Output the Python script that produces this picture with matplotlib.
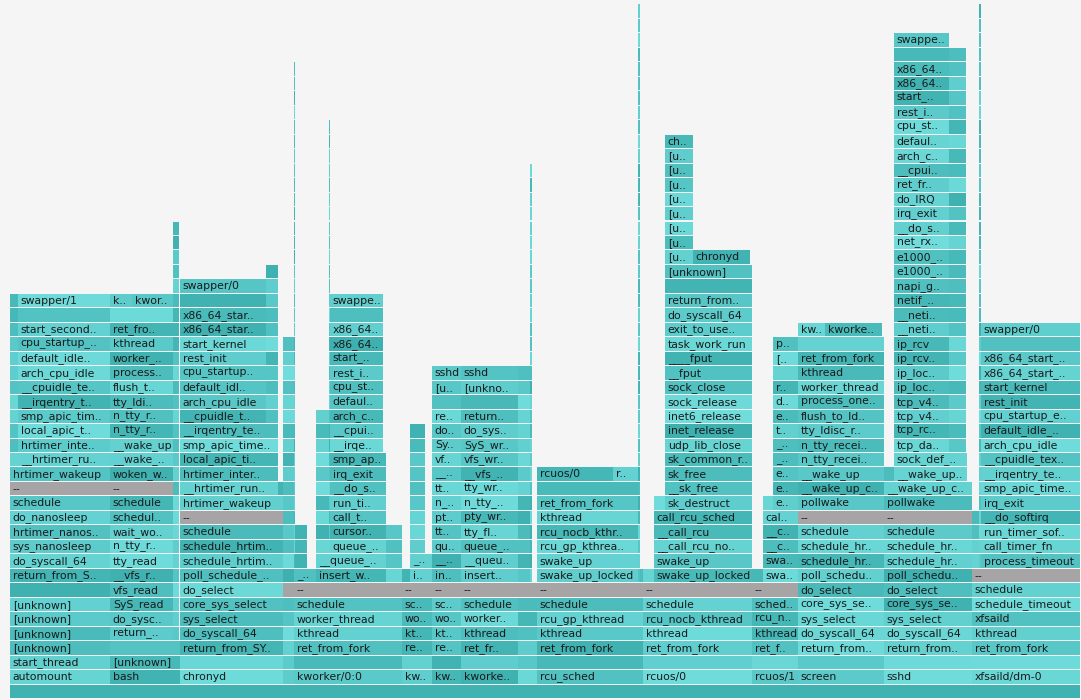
import zlib
import matplotlib
matplotlib.use("Agg")
import matplotlib.pyplot as plt


def unk(n):
    return ";".join(["[unknown]"] * n)


# ===================== FRAGMENTOS DE PILA =====================
SELECT = (";;return_from_SYSCALL_64;do_syscall_64;sys_select;core_sys_select;do_select;"
          "poll_schedule_timeout;schedule_hrtimeout_range;schedule_hrtimeout_range_clock;schedule;--")
KWORK = ";;ret_from_fork;kthread;worker_thread;schedule;--"
IDLE = ("smp_apic_timer_interrupt;__irqentry_text_start;__cpuidle_text_start;arch_cpu_idle;"
        "default_idle_call;cpu_startup_entry")
BOOT0 = "rest_init;start_kernel;x86_64_start_reservations;x86_64_start_kernel;;swapper/0"
TTYW = ("insert_work;__queue_work;queue_work_on;tty_flip_buffer_push;pty_write;n_tty_write;tty_write;"
        "__vfs_write;vfs_write;SyS_write;do_syscall_64;return_from_SYSCALL_64;;[unknown];sshd")
RCU_CB = "swake_up_locked;swake_up;__call_rcu_nocb_enqueue;__call_rcu;call_rcu_sched"
TIMER = "call_timer_fn;run_timer_softirq;__do_softirq;irq_exit"

AUTO = ("automount;start_thread;[unknown];[unknown];[unknown];[unknown];;return_from_SYSCALL_64;"
        "do_syscall_64;sys_nanosleep;hrtimer_nanosleep;do_nanosleep;schedule;--;hrtimer_wakeup")
BASH = ("bash;[unknown];;return_from_SYSCALL_64;do_syscall_64;SyS_read;vfs_read;__vfs_read;tty_read;"
        "n_tty_read;wait_woken;schedule_timeout;schedule;--;woken_wake_function;__wake_up_common;__wake_up;"
        "n_tty_receive_buf_common;n_tty_receive_buf2;tty_ldisc_receive_buf;flush_to_ldisc;process_one_work;"
        "worker_thread;kthread;ret_from_fork;")
CHRONY = "chronyd" + SELECT + ";hrtimer_wakeup;__hrtimer_run_queues;hrtimer_interrupt;local_apic_timer_interrupt"
KW0 = "kworker/0:0" + KWORK
KW0B = KW0 + ";insert_work;__queue_work"
KW1 = "kworker/0:1" + KWORK
KW3 = "kworker/u2:1" + KWORK
RCU = "rcu_sched;;ret_from_fork;kthread;rcu_gp_kthread;schedule;--"
RCUW = RCU + ";swake_up_locked;swake_up;rcu_gp_kthread_wake;rcu_nocb_kthread;kthread;ret_from_fork;"
Q0 = "rcuos/0;;ret_from_fork;kthread;rcu_nocb_kthread;schedule;--"
Q0W = Q0 + ";" + RCU_CB
Q0S = (Q0W + ";sk_destruct;__sk_free;sk_free;sk_common_release;udp_lib_close;inet_release;inet6_release;"
       "sock_release;sock_close;__fput;____fput;task_work_run;exit_to_usermode_loop;do_syscall_64;"
       "return_from_SYSCALL_64;;[unknown]")
Q1 = "rcuos/1;;ret_from_fork;kthread;rcu_nocb_kthread;schedule;--"
Q1W = Q1 + ";" + RCU_CB
SCREEN = ("screen" + SELECT + ";pollwake;__wake_up_common;__wake_up;n_tty_receive_buf_common;"
          "n_tty_receive_buf2;tty_ldisc_receive_buf;flush_to_ldisc;process_one_work;worker_thread;"
          "kthread;ret_from_fork;")
SSHD = "sshd" + SELECT + ";pollwake;__wake_up_common"
SSHD_SK = SSHD + ";__wake_up_sync_key;sock_def_readable"
NET = ("tcp_rcv_established;tcp_v4_do_rcv;tcp_v4_rcv;ip_local_deliver_finish;ip_local_deliver;ip_rcv_finish;"
       "ip_rcv;__netif_receive_skb_core;__netif_receive_skb;netif_receive_skb_internal;napi_gro_receive;"
       "e1000_clean_rx_irq;e1000_clean;net_rx_action;__do_softirq;irq_exit;do_IRQ;ret_from_intr;"
       "__cpuidle_text_start;arch_cpu_idle;default_idle_call;cpu_startup_entry;" + BOOT0)
XFS = "xfsaild/dm-0;;ret_from_fork;kthread;xfsaild;schedule_timeout;schedule;--"

# ===================== PILAS PLEGADAS (pila, muestras) =====================
stacks = [
    (AUTO + ";__run_hrtimer;hrtimer_interrupt;local_apic_timer_interrupt;" + IDLE + ";start_secondary;;swapper/1", 8),
    (AUTO + ";__hrtimer_run_queues;hrtimer_interrupt;local_apic_timer_interrupt;" + IDLE + ";start_secondary;;swapper/1", 92),

    (BASH + ";kworker/0:1", 22),
    (BASH + ";kworker/0:2", 41),
    ("bash;[unknown];;" + unk(29), 6),
    ("bash;[unknown];", 1),

    (CHRONY + ";smp_apic_timer_interrupt;__irqentry_text_start;__cpuidle_text_start;arch_cpu_idle;"
     "default_idle_call;cpu_startup_entry;" + BOOT0, 86),
    (CHRONY + ";smp_apic_timer_interrupt;__irqentry_text_start;cpuidle_enter_state;cpuidle_enter;"
     "call_cpuidle;cpu_idle_loop;cpu_startup_entry;" + BOOT0, 12),
    ("chronyd" + SELECT + ";hrtimer_wakeup;__run_hrtimer", 5),

    ("ksoftirqd/0;;ret_from_fork;kthread;smpboot_thread_fn;schedule;--;try_to_wake_up;wake_up_process;"
     "wakeup_softirqd;__do_softirq;irq_exit;" + IDLE + ";" + BOOT0, 11),

    (KW0 + ";__queue_work;" + unk(35), 1),
    (KW0 + ";__queue_work;queue_work_on;delayed_work_timer_fn;call_timer_fn", 12),
    (KW0 + ";__queue_work", 9),
    (KW0B + ";queue_delayed_work_on;delayed_work_timer_fn;" + TIMER + ";smp_apic_timer_interrupt;"
     "__irqentry_text_start;__cpuidle_text_start;arch_cpu_idle", 13),
    (KW0B + ";queue_delayed_work_on;" + unk(29), 1),
    (KW0B + ";queue_work_on;cursor_timer_handler;" + TIMER + ";" + IDLE + ";" + BOOT0, 53),
    (KW0B + ";queue_work_on;cursor_timer_handler;" + TIMER + ";smp_apic_timer_interrupt", 3),
    (KW0 + ";autoremove_wake_function;__wake_up_common;__wake_up;tty_wakeup", 16),

    (KW1 + ";try_to_wake_up", 8),
    (KW1 + ";insert_work;__queue_work;queue_work_on;tty_flip_buffer_push;pty_write;n_tty_write;"
     "tty_write;__vfs_write;vfs_write;SyS_write;do_syscall_64", 15),
    (KW1 + ";insert_work;__queue_work", 7),

    ("kworker/0:2" + KWORK + ";" + TTYW, 29),
    ("kworker/u2:0" + KWORK + ";" + TTYW, 57),

    (KW3 + ";" + TTYW, 12),
    (KW3, 5),
    (KW3 + ";" + unk(29), 2),

    (RCUW + ";rcuos/0", 76),
    (RCUW + ";rcuos/1", 25),
    (RCU + ";" + unk(40), 2),
    (RCU + ";try_to_wake_up", 3),

    (Q0 + ";wake_up_process", 11),
    (Q0W + ";rcu_process_callbacks", 11),
    (Q0S + ";" + unk(8) + ";chronyd", 28),
    (Q0S + ";chronyd", 57),
    (Q0S, 2),

    (Q1 + ";wake_up_process", 11),
    (Q1W + ";rcu_do_batch", 10),
    (Q1W + ";ep_remove;ep_free;ep_eventpoll_release;__fput;____fput;task_work_run;exit_to_usermode_loop;"
     "do_syscall_64;return_from_SYSCALL_64;;[unknown];polkitd", 25),

    (SCREEN + ";kworker/0:1", 27),
    (SCREEN + ";kworker/u2:0", 57),
    (SCREEN, 2),

    (SSHD + ";__wake_up", 10),
    (SSHD_SK + ";tcp_data_queue;" + NET, 55),
    (SSHD_SK + ";tcp_rcv_state_process;" + unk(27), 17),
    (SSHD_SK, 1),
    (SSHD, 5),

    (XFS + ";wake_up_process;try_to_wake_up;__do_softirq;irq_exit", 7),
    (XFS + ";" + unk(39), 2),
    (XFS + ";process_timeout;" + TIMER + ";" + IDLE + ";" + BOOT0, 99),
]

# ===================== ARBOL =====================
root = {"name": "", "value": 0, "children": {}}
for stack, count in stacks:
    node = root
    node["value"] += count
    for frame in stack.split(";"):
        child = node["children"].get(frame)
        if child is None:
            child = {"name": frame, "value": 0, "children": {}}
            node["children"][frame] = child
        child["value"] += count
        node = child

rects = []


def layout(node, x0, depth):
    rects.append((node["name"], x0, node["value"], depth))
    x = x0
    for child in node["children"].values():
        layout(child, x, depth + 1)
        x += child["value"]


layout(root, 10, 0)

# ===================== DIBUJO =====================
CHAR_W = 6.4


def frame_color(name, x0, depth):
    if name == "--":
        return "#a6a4a4"
    v = (zlib.crc32(f"{name}|{depth}|{x0}".encode()) % 1000) / 1000.0
    r = 62 + 50 * v
    g = 176 + 44 * v
    return (r / 255, g / 255, g / 255)


def frame_text(name, w):
    chars = int(w / CHAR_W)
    if chars < 3:
        return ""
    if len(name) <= chars:
        return name
    return name[:chars - 2] + ".."


fig = plt.figure(figsize=(10.81, 7.0), dpi=100)
fig.patch.set_facecolor("#f5f5f5")
ax = fig.add_axes([0, 0, 1, 1])
ax.set_facecolor("#f5f5f5")

ROW = 14.47
ax.set_xlim(0, 1081)
ax.set_ylim(-2 / ROW, 698 / ROW)

lefts = [r[1] for r in rects]
widths = [r[2] - 0.4 if r[2] > 2 else r[2] for r in rects]
depths = [r[3] for r in rects]
colors = [frame_color(r[0], r[1], r[3]) for r in rects]
ax.barh(depths, widths, left=lefts, height=0.93, align="edge", color=colors, linewidth=0)

for name, x0, w, depth in rects:
    label = frame_text(name, w)
    if label:
        ax.text(x0 + 2.8, depth + 0.45, label, ha="left", va="center",
                fontsize=7.8, family="DejaVu Sans", color="#1a1a1a")

ax.axis("off")
fig.savefig("out.png", dpi=100, facecolor=fig.get_facecolor())
